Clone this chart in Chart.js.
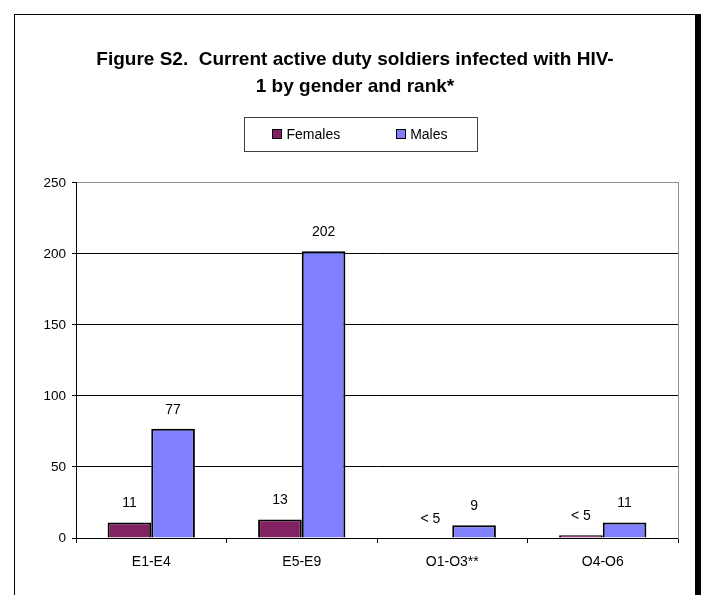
<!DOCTYPE html>
<html>
<head>
<meta charset="utf-8">
<script src="https://cdn.jsdelivr.net/npm/chart.js@4.4.1/dist/chart.umd.min.js"></script>
<style>
  body { margin: 0; background: #fff; overflow: hidden; }
  #frame { position: absolute; left: 14px; top: 14px; width: 680px; height: 640px;
           border: 1px solid #000; box-shadow: 5px 0 0 #000; background: #fff; }
  #grafico { position: absolute; left: 0; top: 0; }
</style>
</head>
<body>
<div id="frame"></div>
<canvas id="grafico" width="702" height="595"></canvas>
<script>
var rangos = ['E1-E4', 'E5-E9', 'O1-O3**', 'O4-O6'];
var mujeres = [11, 13, 0, 2];
var hombres = [77, 202, 9, 11];
var etiquetasMujeres = ['11', '13', '< 5', '< 5'];
var etiquetasHombres = ['77', '202', '9', '11'];
var ticksY = [0, 50, 100, 150, 200, 250];

var fuente = "'Liberation Sans', Arial, sans-serif";

// etiquetas encima de cada barra
var etiquetasPlugin = {
    id: 'etiquetas',
    afterDatasetsDraw: function (chart) {
        var ctx = chart.ctx;
        var textos = [etiquetasMujeres, etiquetasHombres];
        ctx.save();
        ctx.font = '14px ' + fuente;
        ctx.fillStyle = '#000';
        ctx.textAlign = 'center';
        ctx.textBaseline = 'bottom';
        chart.data.datasets.forEach(function (ds, i) {
            chart.getDatasetMeta(i).data.forEach(function (bar, j) {
                ctx.fillText(textos[i][j], bar.x, bar.y - 12);
            });
        });
        ctx.restore();
    }
};

// leyenda con recuadro
var leyendaPlugin = {
    id: 'leyenda',
    afterDraw: function (chart) {
        var ctx = chart.ctx;
        ctx.save();
        ctx.font = '14px ' + fuente;
        var items = chart.data.datasets.map(function (ds) {
            return { texto: ds.label, color: ds.backgroundColor, ancho: 14 + ctx.measureText(ds.label).width };
        });
        var total = items[0].ancho + 56 + items[1].ancho;
        var centro = (8 + chart.width) / 2 + 5;
        var x = centro - total / 2;
        var yc = 134;
        ctx.strokeStyle = '#404040';
        ctx.lineWidth = 1;
        ctx.strokeRect(Math.round(x - 28) + 0.5, 117.5, Math.round(total + 58), 34);
        ctx.textBaseline = 'middle';
        ctx.textAlign = 'left';
        items.forEach(function (it) {
            ctx.fillStyle = it.color;
            ctx.fillRect(Math.round(x), yc - 5, 10, 10);
            ctx.strokeStyle = '#000';
            ctx.strokeRect(Math.round(x) + 0.5, yc - 4.5, 9, 9);
            ctx.fillStyle = '#000';
            ctx.fillText(it.texto, x + 14, yc + 1);
            x += it.ancho + 56;
        });
        ctx.restore();
    }
};

var graficoRango = new Chart(document.getElementById('grafico'), {
    type: 'bar',
    data: {
        labels: rangos,
        datasets: [
            {
                label: 'Females',
                data: mujeres,
                backgroundColor: '#822262',
                borderColor: '#000',
                borderWidth: 2,
                borderSkipped: 'bottom',
                categoryPercentage: 0.58,
                barPercentage: 1
            },
            {
                label: 'Males',
                data: hombres,
                backgroundColor: '#8080FF',
                borderColor: '#000',
                borderWidth: 2,
                borderSkipped: 'bottom',
                categoryPercentage: 0.58,
                barPercentage: 1
            }
        ]
    },
    options: {
        responsive: false,
        animation: false,
        devicePixelRatio: 1,
        layout: { padding: { left: 8, right: 0, top: 0, bottom: 0 } },
        plugins: {
            legend: { display: false },
            tooltip: { enabled: false },
            title: {
                display: true,
                text: ['Figure S2.  Current active duty soldiers infected with HIV-', '1 by gender and rank*'],
                color: '#000',
                font: { family: fuente, size: 19, weight: 'bold', lineHeight: 1.42 },
                padding: { top: 46.5, bottom: 82.5 }
            }
        },
        scales: {
            x: {
                grid: { drawOnChartArea: false, offset: true, color: '#000', tickLength: 5 },
                border: { color: '#000', width: 1 },
                ticks: { color: '#000', font: { family: fuente, size: 14 }, padding: 11 },
                afterFit: function (s) { s.height = 57; }
            },
            y: {
                min: 0,
                max: 250,
                afterBuildTicks: function (s) { s.ticks = ticksY.map(function (v) { return { value: v }; }); },
                grid: {
                    color: function (c) { return c.tick && c.tick.value === 250 ? '#909090' : '#000'; },
                    tickColor: '#000',
                    tickLength: 4
                },
                border: { color: '#000', width: 1 },
                ticks: { color: '#000', font: { family: fuente, size: 13.5 }, padding: 6 },
                afterFit: function (s) { s.width = 68; }
            },
            borde: {
                position: 'right',
                grid: { display: false },
                border: { color: '#909090', width: 1 },
                ticks: { display: false },
                afterFit: function (s) { s.width = 24; }
            }
        }
    },
    plugins: [etiquetasPlugin, leyendaPlugin]
});
</script>
</body>
</html>
